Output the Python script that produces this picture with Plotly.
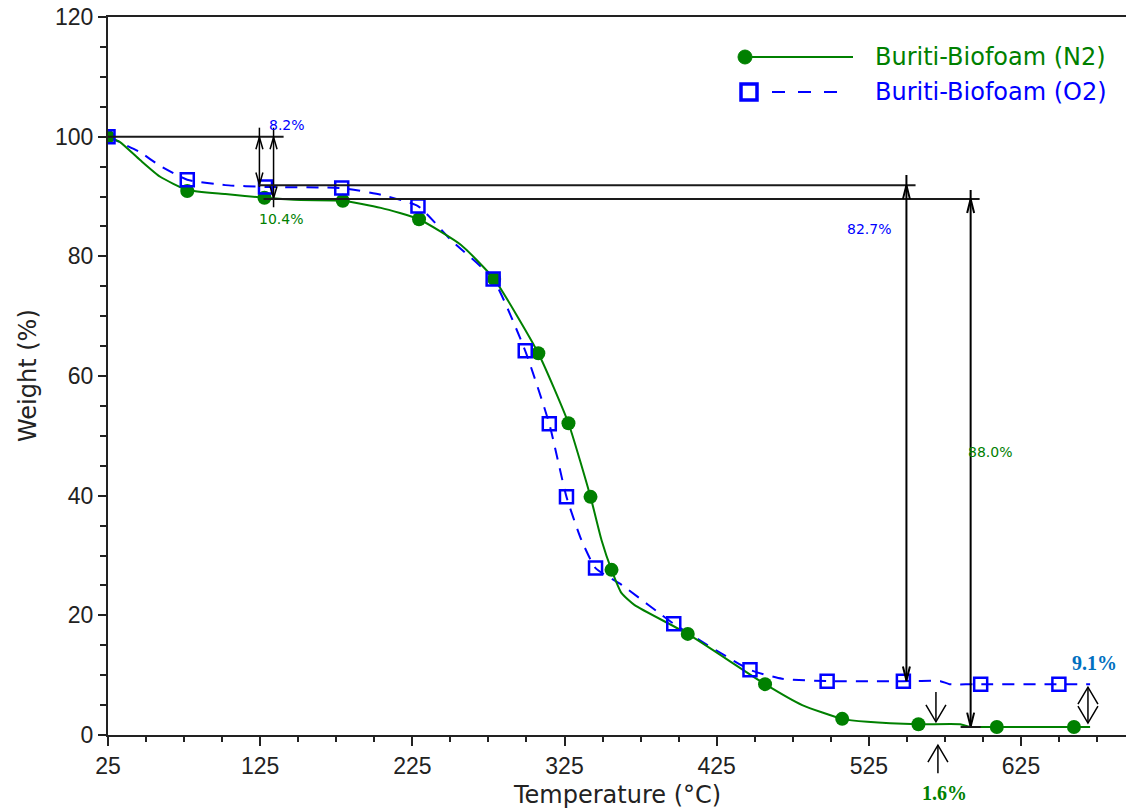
import plotly.graph_objects as go

# ---------------- data ----------------
# N2 curve (green, solid)
n2_curve_temp = [25, 32.9, 46.1, 59.3, 77.1, 102.1, 127.8, 151.6, 179.3, 204.3, 229.4, 257.0,
                 278.8, 307.8, 327.6, 342.1, 349.3, 355.9, 362.5, 371.1, 406.0, 456.8,
                 481.2, 507.5, 524.0, 557.6, 585.0, 592.0, 609.1, 659.8, 670.4]
n2_curve_weight = [100.0, 99.1, 96.1, 93.3, 91.1, 90.4, 89.8, 89.4, 89.3, 88.1, 86.2, 81.9,
                   76.2, 63.8, 52.1, 39.8, 32.6, 27.6, 23.7, 21.7, 16.9, 8.5,
                   5.0, 2.7, 2.2, 1.8, 1.8, 1.35, 1.34, 1.34, 1.34]
n2_mark_temp = [25, 77.1, 127.8, 179.3, 229.4, 278.8, 307.8, 327.6, 342.1, 355.9, 406.0, 456.8,
                507.5, 557.6, 609.1, 659.8]
n2_mark_weight = [100.0, 90.9, 89.8, 89.3, 86.2, 76.2, 63.8, 52.1, 39.8, 27.6, 16.9, 8.5,
                  2.7, 1.8, 1.34, 1.34]

# O2 curve (blue, dashed)
o2_curve_temp = [25, 46.1, 59.3, 77.1, 102.1, 128.5, 178.6, 204.3, 228.7, 250.5, 278.1, 299.2,
                 315.0, 326.3, 336.1, 345.4, 362.5, 396.8, 446.9, 468.0, 497.6, 547.7, 572.0,
                 578.0, 598.5, 649.9, 670.4]
o2_curve_weight = [100.0, 97.4, 95.1, 92.8, 91.9, 91.6, 91.4, 90.3, 88.4, 82.7, 76.2, 64.2,
                   52.0, 39.8, 32.6, 27.9, 25.1, 18.6, 10.9, 9.4, 9.0, 9.0, 9.0,
                   8.5, 8.5, 8.5, 8.5]
o2_mark_temp = [25, 77.1, 128.5, 178.6, 228.7, 278.1, 299.2, 315.0, 326.3, 345.4, 396.8, 446.9,
                497.6, 547.7, 598.5, 649.9]
o2_mark_weight = [100.0, 92.8, 91.6, 91.4, 88.4, 76.2, 64.2, 52.0, 39.8, 27.9, 18.6, 10.9,
                  9.0, 9.0, 8.5, 8.5]

series_names = ["Buriti-Biofoam (N2)", "Buriti-Biofoam (O2)"]
x_ticks = [25, 125, 225, 325, 425, 525, 625]
y_ticks = [0, 20, 40, 60, 80, 100, 120]

GREEN = "#008000"
BLUE = "#0000FF"
LBLUE = "#0070C0"
BLACK = "#1a1a1a"
AX = "#222222"

# ---------------- layout geometry ----------------
W, H = 1126, 810
ML, MR, MT, MB = 108, 0, 17, 75
PW, PH = W - ML - MR, H - MT - MB
X0, X1 = 25, 694
Y0, Y1 = 0, 120


def P(xd, yd):
    """data -> paper coordinates"""
    return (xd - X0) / (X1 - X0), (yd - Y0) / (Y1 - Y0)


def dpx(px):
    return px / PW


def dpy(py):
    return py / PH


def ppx(px, py):
    """pixel (from top-left of page) -> paper coordinates"""
    return (px - ML) / PW, (H - MB - py) / PH


fig = go.Figure()

fig.add_trace(go.Scatter(x=o2_curve_temp, y=o2_curve_weight, mode="lines",
                         line=dict(color=BLUE, width=2, dash="12px,9px", shape="spline", smoothing=0.5),
                         showlegend=False, hoverinfo="skip"))
fig.add_trace(go.Scatter(x=n2_curve_temp, y=n2_curve_weight, mode="lines",
                         line=dict(color=GREEN, width=2, shape="spline", smoothing=0.5),
                         showlegend=False, hoverinfo="skip"))
fig.add_trace(go.Scatter(x=n2_mark_temp, y=n2_mark_weight, mode="markers", name=series_names[0],
                         marker=dict(symbol="circle", size=14, color=GREEN), showlegend=False))
fig.add_trace(go.Scatter(x=o2_mark_temp, y=o2_mark_weight, mode="markers", name=series_names[1],
                         marker=dict(symbol="square-open", size=13, color=BLUE,
                                     line=dict(width=2.5, color=BLUE)), showlegend=False))

shapes = []
annotations = []


def seg(xa, ya, xb, yb, color=BLACK, width=2):
    (x0, y0), (x1, y1) = P(xa, ya), P(xb, yb)
    shapes.append(dict(type="line", xref="paper", yref="paper", x0=x0, y0=y0, x1=x1, y1=y1,
                       line=dict(color=color, width=width)))


def vhead(xd, yd, direction, half=10, length=17, width=2, color="black"):
    # open V arrowhead with tip at (xd, yd); direction 'up' or 'down'
    xt, yt = P(xd, yd)
    s = -1 if direction == "up" else 1
    ya = yt + s * dpy(length)
    path = f"M {xt - dpx(half)},{ya} L {xt},{yt} L {xt + dpx(half)},{ya}"
    shapes.append(dict(type="path", xref="paper", yref="paper", path=path,
                       line=dict(color=color, width=width)))


def arrow_v(xd, y_from, y_to, head_dirs, half=10, length=17, width=2):
    seg(xd, y_from, xd, y_to, color="black", width=width)
    for yd, d in head_dirs:
        vhead(xd, yd, d, half=half, length=length, width=width)


# 100 % reference line and initial-loss arrows
seg(25, 100, 140.4, 100)
arrow_v(124.5, 101.5, 91.6, [(99.9, "up"), (92.0, "down")], half=3.5, length=12, width=1.5)
arrow_v(133.8, 101.5, 88.2, [(99.9, "up"), (89.7, "down")], half=3.5, length=12, width=1.5)

# plateau lines
seg(123.9, 91.9, 555.7, 91.9)
seg(127.2, 89.6, 597.8, 89.6)

# main loss arrows
arrow_v(549.7, 93.6, 9.0, [(91.9, "up"), (9.1, "down")], half=3.5, length=14, width=2)
arrow_v(591.9, 91.1, 1.34, [(89.6, "up"), (1.4, "down")], half=3.5, length=14, width=2)
seg(585.3, 1.34, 598.5, 1.34)

# residue arrows
arrow_v(569.1, 7.2, 2.2, [(2.2, "down")], half=10, length=17, width=1.5)
arrow_v(570.4, -6.4, -1.7, [(-1.7, "up")], half=10, length=17, width=1.5)
arrow_v(669.0, 8.0, 2.0, [(8.0, "up"), (2.0, "down")], half=10, length=17, width=1.5)


def label(xd, yd, text, color, size=14, family="DejaVu Sans", bold=False):
    xp, yp = P(xd, yd)
    annotations.append(dict(x=xp, y=yp, xref="paper", yref="paper",
                            text=f"<b>{text}</b>" if bold else text,
                            showarrow=False, font=dict(color=color, size=size, family=family),
                            xanchor="center", yanchor="middle"))


label(142.6, 102.0, "8.2%", BLUE, size=14)
label(138.7, 86.2, "10.4%", GREEN, size=14)
label(525.1, 84.6, "82.7%", BLUE, size=14)
label(604.6, 47.3, "88.0%", GREEN, size=14)
label(673.5, 12.0, "9.1%", LBLUE, size=20, family="Liberation Serif", bold=True)
label(575.0, -9.7, "1.6%", GREEN, size=20, family="Liberation Serif", bold=True)

# ---------------- axis titles ----------------
tx, ty = ppx(617, 795)
annotations.append(dict(x=tx, y=ty, xref="paper", yref="paper", text="Temperature (°C)",
                        showarrow=False, xanchor="center", yanchor="middle",
                        font=dict(family="DejaVu Sans", size=24, color=AX)))
tx, ty = ppx(28, 376)
annotations.append(dict(x=tx, y=ty, xref="paper", yref="paper", text="Weight (%)", textangle=-90,
                        showarrow=False, xanchor="center", yanchor="middle",
                        font=dict(family="DejaVu Sans", size=24, color=AX)))

# ---------------- custom legend (top right) ----------------
lx, ly = ppx(745, 57)
shapes.append(dict(type="circle", xref="paper", yref="paper", xsizemode="pixel", ysizemode="pixel",
                   xanchor=lx, yanchor=ly, x0=-7, x1=7, y0=-7, y1=7,
                   fillcolor=GREEN, line=dict(color=GREEN, width=1)))
a, b = ppx(752, 57), ppx(853, 57)
shapes.append(dict(type="line", xref="paper", yref="paper", x0=a[0], y0=a[1], x1=b[0], y1=b[1],
                   line=dict(color=GREEN, width=2)))
sx, sy = ppx(749, 92)
shapes.append(dict(type="rect", xref="paper", yref="paper", xsizemode="pixel", ysizemode="pixel",
                   xanchor=sx, yanchor=sy, x0=-8, x1=8, y0=-8, y1=8,
                   fillcolor="white", line=dict(color=BLUE, width=3.5)))
a, b = ppx(772, 92), ppx(838, 92)
shapes.append(dict(type="line", xref="paper", yref="paper", x0=a[0], y0=a[1], x1=b[0], y1=b[1],
                   line=dict(color=BLUE, width=2, dash="13px,13px")))
for (lxp, lyp), name, col in [((873, 57), series_names[0], GREEN), ((873, 92), series_names[1], BLUE)]:
    px_, py_ = ppx(lxp, lyp)
    annotations.append(dict(x=px_, y=py_, xref="paper", yref="paper", text=name, showarrow=False,
                            xanchor="left", yanchor="middle",
                            font=dict(color=col, size=24, family="DejaVu Sans")))

fig.update_layout(
    width=W, height=H,
    margin=dict(l=ML, r=MR, t=MT, b=MB, pad=0, autoexpand=False),
    paper_bgcolor="white", plot_bgcolor="white",
    shapes=shapes, annotations=annotations,
    showlegend=False,
    xaxis=dict(range=[X0, X1], tickvals=x_ticks, ticktext=[str(v) for v in x_ticks],
               automargin=False,
               showgrid=False, zeroline=False, showline=True, linecolor=AX, linewidth=2,
               mirror=True, ticks="outside", ticklen=9, tickwidth=2, tickcolor=AX,
               minor=dict(dtick=25, tick0=25, ticks="outside", ticklen=5, tickwidth=2, tickcolor=AX),
               tickfont=dict(family="Liberation Sans", size=23, color=AX)),
    yaxis=dict(range=[Y0, Y1], tickvals=y_ticks, ticktext=[str(v) for v in y_ticks],
               automargin=False,
               showgrid=False, zeroline=False, showline=True, linecolor=AX, linewidth=2,
               ticks="outside", ticklen=8, tickwidth=2, tickcolor=AX,
               minor=dict(dtick=5, ticks="outside", ticklen=6, tickwidth=2, tickcolor=AX),
               tickfont=dict(family="Liberation Sans", size=23, color=AX)),
)

# remove the browser's default 8px body margin so the figure sits at the page origin
fig.write_html("out.html", config={"displayModeBar": False},
               post_script="document.body.style.margin='0';document.body.style.overflow='hidden';")
